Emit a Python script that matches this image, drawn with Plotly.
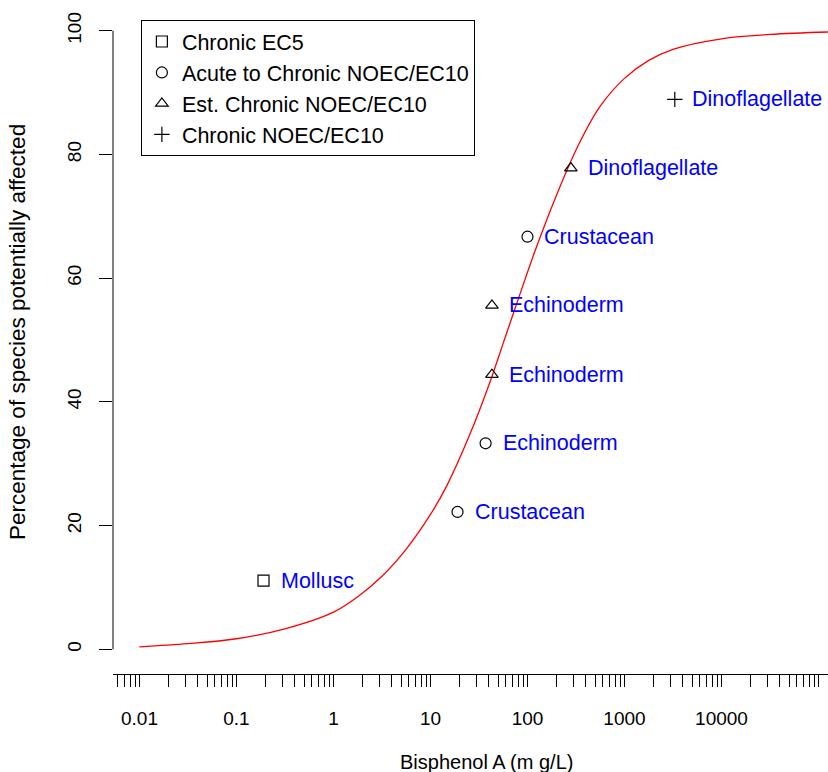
import math
import plotly.graph_objects as go

# ---- data ----
species = ["Mollusc", "Crustacean", "Echinoderm", "Echinoderm", "Echinoderm",
           "Crustacean", "Dinoflagellate", "Dinoflagellate"]
conc = [0.19, 19, 37, 43, 43, 100, 280, 3300]
pct = [11.1, 22.2, 33.3, 44.4, 55.6, 66.7, 77.8, 88.9]
data_type = ["Chronic EC5", "Acute to Chronic NOEC/EC10", "Acute to Chronic NOEC/EC10",
             "Est. Chronic NOEC/EC10", "Est. Chronic NOEC/EC10",
             "Acute to Chronic NOEC/EC10", "Est. Chronic NOEC/EC10", "Chronic NOEC/EC10"]
type_order = ["Chronic EC5", "Acute to Chronic NOEC/EC10", "Est. Chronic NOEC/EC10",
              "Chronic NOEC/EC10"]
type_symbols = ["square-open", "circle-open", "triangle-up-open", "cross-thin-open"]

# fitted SSD curve (concentration, % affected)
curve_conc = [0.01, 0.0316, 0.1, 0.316, 1, 1.78, 3.16, 5.62, 10, 14.8, 25.1, 41.7,
              56.2, 74.1, 119, 200, 347, 562, 1000, 1780, 3160, 10000, 31600, 125000]
curve_pct = [0.4, 0.9, 1.7, 3.3, 6.0, 8.5, 11.8, 16.2, 21.8, 26.5, 34.5, 43.5,
             49.5, 55.0, 64.3, 73.5, 82.0, 87.8, 92.3, 95.2, 97.0, 98.7, 99.4, 99.8]

x_major = [0.01, 0.1, 1, 10, 100, 1000, 10000]
x_major_labels = ["0.01", "0.1", "1", "10", "100", "1000", "10000"]
y_ticks = [0, 20, 40, 60, 80, 100]

FONT = "Liberation Sans, Arial, Helvetica, sans-serif"
FS_TICK = 19
FS_TEXT = 21.5

# ---- axis tick positions (majors + minor 2..9 per decade) ----
xr = [-2.273, 5.098]
tickvals, ticktext = [], []
for e in range(-3, 6):
    for m in range(1, 10):
        v = m * 10.0 ** e
        if xr[0] <= math.log10(v) <= xr[1]:
            tickvals.append(v)
            lab = ""
            for mv, ml in zip(x_major, x_major_labels):
                if abs(v - mv) / mv < 1e-9:
                    lab = ml
            ticktext.append(lab)

fig = go.Figure()

fig.add_trace(go.Scatter(x=curve_conc, y=curve_pct, mode="lines",
                         line=dict(color="#ff0000", width=1.3, shape="spline",
                                   smoothing=1.0),
                         showlegend=False, hoverinfo="skip"))

for t, sym in zip(type_order, type_symbols):
    xs = [c for c, d in zip(conc, data_type) if d == t]
    ys = [p for p, d in zip(pct, data_type) if d == t]
    fig.add_trace(go.Scatter(x=xs, y=ys, mode="markers", name=t,
                             marker=dict(symbol=sym, size=11, color="black",
                                         line=dict(color="black", width=1.2))))

for c, p, s in zip(conc, pct, species):
    fig.add_annotation(x=math.log10(c), y=p, text=s, showarrow=False,
                       xanchor="left", yanchor="middle", xshift=15,
                       font=dict(family=FONT, size=FS_TEXT, color="#0000ff"))

# y axis line from 0 to 100 only
fig.add_shape(type="line", xref="paper", yref="y", x0=0, x1=0, y0=0, y1=100,
              line=dict(color="black", width=1))

# axis titles
fig.add_annotation(xref="paper", yref="paper", x=0.523, y=-0.1317,
                   text="Bisphenol A (m g/L)", showarrow=False,
                   xanchor="center", yanchor="middle",
                   font=dict(family=FONT, size=20, color="black"))
fig.add_annotation(xref="paper", yref="paper", x=-0.1329, y=0.512,
                   text="Percentage of species potentially affected", showarrow=False,
                   textangle=-90, xanchor="center", yanchor="middle",
                   font=dict(family=FONT, size=22.5, color="black"))

fig.update_layout(
    width=828, height=772,
    margin=dict(l=113, r=0, t=6, b=98),
    paper_bgcolor="white", plot_bgcolor="white",
    font=dict(family=FONT, size=FS_TICK, color="black"),
    xaxis=dict(type="log", range=xr, showgrid=False, zeroline=False,
               showline=True, linecolor="black", linewidth=1,
               ticks="outside", ticklen=12, tickwidth=1, tickcolor="black",
               tickvals=tickvals, ticktext=ticktext, ticklabelstandoff=15,
               tickfont=dict(family=FONT, size=FS_TICK)),
    yaxis=dict(range=[-4, 104], showgrid=False, zeroline=False, showline=False,
               ticks="outside", ticklen=13, tickwidth=1, tickcolor="black",
               tickvals=y_ticks, tickangle=-90, ticklabelstandoff=10,
               tickfont=dict(family=FONT, size=FS_TICK)),
    legend=dict(x=0.039, y=0.979, xanchor="left", yanchor="top",
                bordercolor="black", borderwidth=1, bgcolor="white",
                font=dict(family=FONT, size=FS_TEXT)),
)

fig.write_html("out.html",
               config={"displayModeBar": False},
               post_script="document.body.style.margin='0';"
                           "document.body.style.overflow='hidden';")
